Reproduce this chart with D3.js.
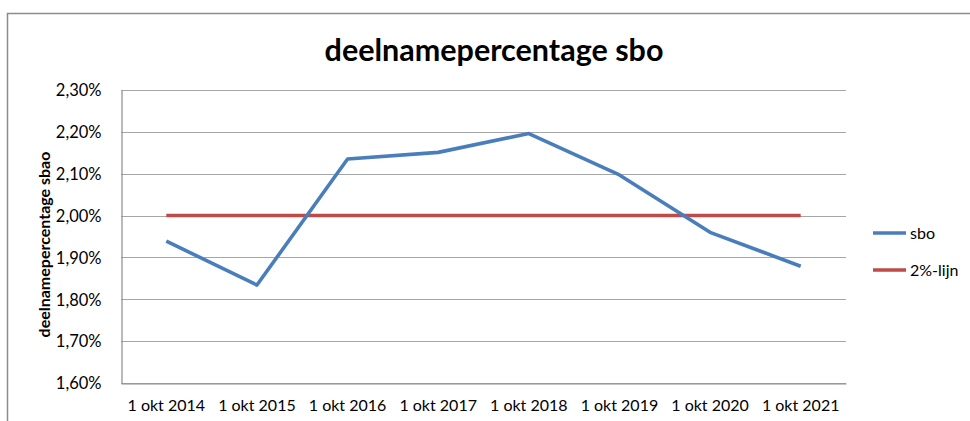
<!DOCTYPE html>
<html>
<head>
<meta charset="utf-8">
<script src="https://cdn.jsdelivr.net/npm/d3@7"></script>
<style>
  html, body { margin: 0; padding: 0; background: #fff; }
  svg { display: block; }
  text { font-family: Lato, "Open Sans", sans-serif; fill: #000; }
</style>
</head>
<body>
<svg id="chart" width="970" height="421"></svg>
<script>
const categories = ["1 okt 2014", "1 okt 2015", "1 okt 2016", "1 okt 2017", "1 okt 2018", "1 okt 2019", "1 okt 2020", "1 okt 2021"];
const sboValues = [1.939, 1.834, 2.135, 2.151, 2.196, 2.097, 1.960, 1.879];
const lineValues = [2.00, 2.00, 2.00, 2.00, 2.00, 2.00, 2.00, 2.00];
const yTicks = [1.60, 1.70, 1.80, 1.90, 2.00, 2.10, 2.20, 2.30];
const seriesNames = ["sbo", "2%-lijn"];
const seriesColors = ["#4A7EBB", "#BE4B48"];
const titleText = "deelnamepercentage sbo";
const yTitleText = "deelnamepercentage sbao";

const svg = d3.select("#chart");
const plot = { left: 121, right: 846, top: 90, bottom: 383 };

// outer frame
svg.append("path")
  .attr("d", "M7.5,430 L7.5,13.5 L975,13.5")
  .attr("fill", "none").attr("stroke", "#8C8C8C").attr("stroke-width", 1.5);

const x = d3.scaleBand().domain(categories).range([plot.left, plot.right]);
const y = d3.scaleLinear().domain([1.60, 2.30]).range([plot.bottom, plot.top]);
const fmt = v => d3.format(".2f")(v).replace(".", ",") + "%";

// gridlines
svg.append("g").selectAll("line").data(yTicks).join("line")
  .attr("x1", plot.left).attr("x2", plot.right)
  .attr("y1", d => Math.round(y(d)) + 0.5).attr("y2", d => Math.round(y(d)) + 0.5)
  .attr("stroke", "#A6A6A6").attr("stroke-width", 1.2);

// y axis
const yAxis = d3.axisLeft(y).tickValues(yTicks).tickFormat(fmt).tickSize(0).tickPadding(20);
const gy = svg.append("g").attr("transform", `translate(${plot.left + 0.5},0)`).call(yAxis);
gy.select(".domain").attr("stroke", "#8C8C8C").attr("stroke-width", 1.2);
gy.selectAll("text").style("font-size", "16.5px").attr("font-family", "Lato, sans-serif").attr("dy", "0.35em");

// x axis
const xAxis = d3.axisBottom(x).tickSize(0).tickPadding(16);
const gx = svg.append("g").attr("transform", `translate(0,${plot.bottom + 0.5})`).call(xAxis);
gx.select(".domain").attr("stroke", "#8C8C8C").attr("stroke-width", 1.2);
gx.selectAll("text").style("font-size", "16px").attr("font-family", "Lato, sans-serif");

const cx = d => x(d) + x.bandwidth() / 2;
const line = d3.line().x((d, i) => cx(categories[i])).y(d => y(d));

svg.append("path").datum(lineValues)
  .attr("d", line).attr("fill", "none")
  .attr("stroke", seriesColors[1]).attr("stroke-width", 3.6);
svg.append("path").datum(sboValues)
  .attr("d", line).attr("fill", "none")
  .attr("stroke", seriesColors[0]).attr("stroke-width", 3.6).attr("stroke-linejoin", "round");

// title
svg.append("text").attr("x", 494).attr("y", 61).attr("text-anchor", "middle")
  .style("font-size", "30.5px").style("font-weight", "bold").text(titleText);

// y title
svg.append("text").attr("transform", `translate(50,${(plot.top + plot.bottom) / 2 + 8}) rotate(-90)`)
  .attr("text-anchor", "middle").style("font-size", "16px").style("font-weight", "bold").text(yTitleText);

// legend
const leg = svg.append("g");
seriesNames.forEach((n, i) => {
  const ly = 233 + i * 37;
  leg.append("line").attr("x1", 873).attr("x2", 906).attr("y1", ly).attr("y2", ly)
    .attr("stroke", seriesColors[i]).attr("stroke-width", 3.6);
  leg.append("text").attr("x", 910).attr("y", ly).attr("dy", "0.35em")
    .style("font-size", "16px").text(n);
});
</script>
</body>
</html>
